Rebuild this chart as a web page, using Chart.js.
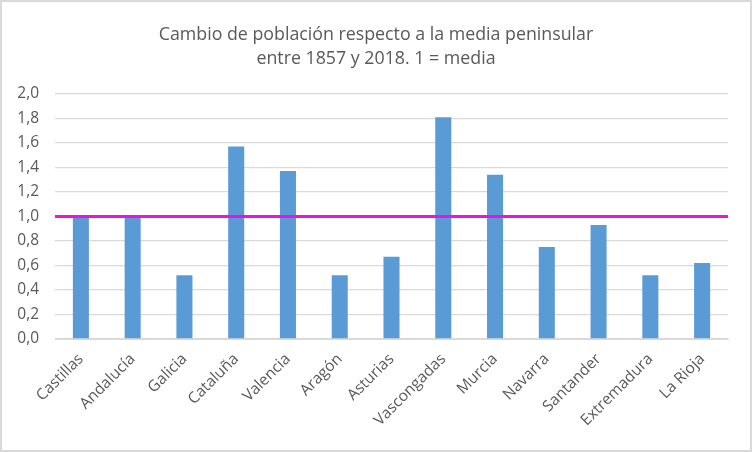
<!DOCTYPE html>
<html><head><meta charset="utf-8">
<script src="https://cdn.jsdelivr.net/npm/chart.js@4/dist/chart.umd.min.js"></script>
<style>html,body{margin:0;padding:0;background:#fff}#wrap{width:752px;height:452px}</style>
</head><body><div id="wrap"><canvas id="c" width="752" height="452"></canvas></div>
<script>
const categories = ["Castillas","Andalucía","Galicia","Cataluña","Valencia","Aragón","Asturias","Vascongadas","Murcia","Navarra","Santander","Extremadura","La Rioja"];
const values = [1.01,0.99,0.52,1.57,1.37,0.52,0.67,1.81,1.34,0.75,0.93,0.52,0.62];
const referenceLevel = 1.0;
const titleLines = ["Cambio de población respecto a la media peninsular","entre 1857 y 2018. 1 = media"];

const FONT = "'Open Sans', 'Noto Sans', sans-serif";
const border = {id:'border', afterDraw(ch){const c=ch.ctx;c.save();c.strokeStyle='#d9d9d9';c.lineWidth=2;c.strokeRect(1,1,750,450);c.restore();},
  beforeDraw(ch){const c=ch.ctx;c.save();c.fillStyle='#fff';c.fillRect(0,0,752,452);c.restore();}};

new Chart(document.getElementById('c'), {
  data: {
    labels: categories,
    datasets: [
      {type:'bar', data: values, backgroundColor:'#5B9BD5', grouped:false, barPercentage:0.62, categoryPercentage:0.5, order:2},
      {type:'line', xAxisID:'x2', data:[{x:0,y:referenceLevel},{x:1,y:referenceLevel}], borderColor:'#EC12E0', borderWidth:3, pointRadius:0, order:1}
    ]
  },
  options: {
    responsive:false, animation:false,
    layout:{padding:{left:0,right:0,top:0,bottom:0}},
    plugins:{
      legend:{display:false}, tooltip:{enabled:false},
      title:{display:true, text:titleLines, color:'#595959', font:{family:FONT,size:17.8,weight:'normal',lineHeight:1.4}, padding:{top:22,bottom:22}}
    },
    scales:{
      x:{ grid:{display:false}, border:{color:'#d9d9d9',width:1},
          ticks:{color:'#595959', font:{family:FONT,size:15.5}, maxRotation:45, minRotation:45, autoSkip:false, padding:3},
          afterFit(s){s.height=113;} },
      x2:{ type:'linear', min:0, max:1, display:false },
      y:{ min:0, max:2, grid:{color:'#d9d9d9', lineWidth:1.3, drawTicks:false}, border:{display:false},
          ticks:{stepSize:0.2, color:'#595959', font:{family:FONT,size:15.5}, padding:16,
                 callback:v=>v.toFixed(1).replace('.',',')},
          afterFit(s){s.width=55;} },
      yR:{ position:'right', min:0, max:2, display:true, grid:{display:false, drawOnChartArea:false}, border:{display:false},
           ticks:{display:false}, afterFit(s){s.width=24;} }
    }
  },
  plugins:[border]
});
</script></body></html>
